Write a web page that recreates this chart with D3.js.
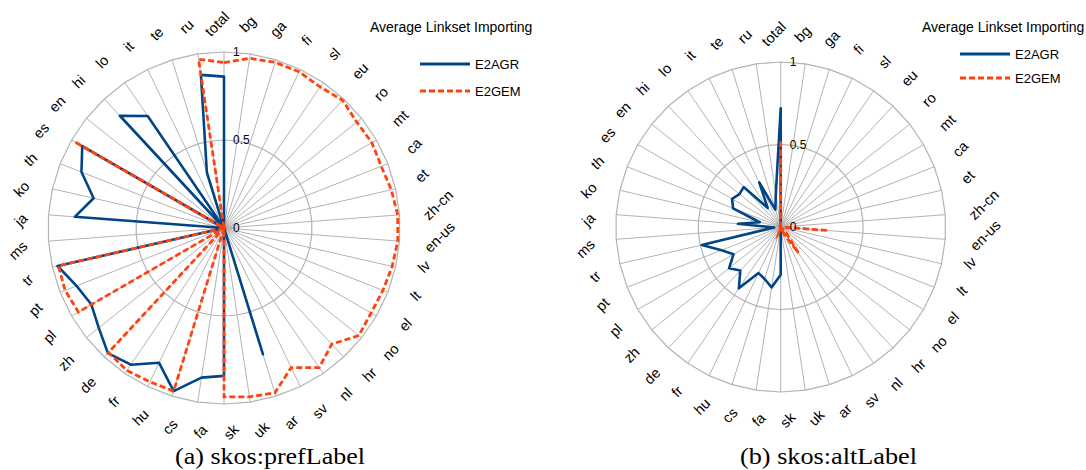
<!DOCTYPE html>
<html><head><meta charset="utf-8">
<script src="https://cdn.jsdelivr.net/npm/d3@7"></script>
<style>body{margin:0;background:#fff} svg{display:block}</style>
</head><body>
<svg id="c" width="1086" height="470"></svg>
<script>
const categories = ["total","bg","ga","fi","sl","eu","ro","mt","ca","et","zh-cn","en-us","lv","lt","el","no","hr","nl","sv","ar","uk","sk","fa","cs","hu","fr","de","zh","pl","pt","tr","ms","ja","ko","th","es","en","hi","lo","it","te","ru"];
const ticks = [0, 0.5, 1];
const tickLabels = ["0", "0.5", "1"];
const seriesNames = ["E2AGR", "E2GEM"];
const chartTitle = "Average Linkset Importing";
const captions = ["(a) skos:prefLabel", "(b) skos:altLabel"];

// (a) skos:prefLabel
const prefE2AGR = [0.86,0,0,0,0,0,0,0,0,0,0,0,0,0,0,0,0,0,0,0.75,0,0.84,0.86,0.97,0.85,0.94,0.97,0.91,0.87,0.90,0.97,0,0.85,0.76,0.87,0.93,0,0.87,0.77,0,0.33,0.88];
const prefE2GEM = [0.94,0.975,0.985,0.985,0.97,0.99,0.965,0.97,0.96,0.975,0.99,0.99,0.98,0.97,0.965,0.98,0.90,0.96,0.88,0.98,0.97,0.96,0,0.97,0.97,0.98,0.965,0,0.955,0.97,0.965,0,0,0,0,0.98,0,0,0,0,0,0.97];
// (b) skos:altLabel
const altE2AGR = [0.72,0,0,0,0,0,0,0,0,0,0,0,0,0,0,0,0,0,0,0,0,0.29,0.37,0.33,0.31,0.45,0.36,0.40,0.33,0.385,0.49,0.04,0.26,0.13,0.31,0.34,0.32,0.33,0.14,0.30,0.11,0.20];
const altE2GEM = [0.52,0,0,0,0,0,0,0,0,0,0,0.29,0,0,0,0,0.05,0.19,0.05,0,0,0,0.04,0.05,0,0,0,0,0,0,0,0,0,0,0,0,0,0,0,0,0,0];

const BLUE = "#004586", ORANGE = "#ff420e", GRID = "#b3b3b3";
const SANS = "'Liberation Sans', Arial, sans-serif";
const svg = d3.select("#c");

function radar(cfg, agr, gem) {
  const { cx, cy, R } = cfg;
  const g = svg.append("g").attr("transform", `translate(${cx},${cy})`);
  const n = categories.length;
  const angle = d3.scaleLinear().domain([0, n]).range([0, 2 * Math.PI]);
  const r = d3.scaleLinear().domain([0, 1]).range([0, R]);

  // spokes
  g.selectAll("line.spoke").data(categories).join("line").attr("class", "spoke")
    .attr("x1", 0).attr("y1", 0)
    .attr("x2", (d, i) => Math.sin(angle(i)) * r(1))
    .attr("y2", (d, i) => -Math.cos(angle(i)) * r(1))
    .attr("stroke", GRID).attr("stroke-width", 1);

  const radial = d3.lineRadial().angle((d, i) => angle(i)).radius(d => r(d)).curve(d3.curveLinearClosed);

  // rings
  g.selectAll("path.ring").data(ticks.filter(t => t > 0)).join("path").attr("class", "ring")
    .attr("d", t => radial(categories.map(() => t)))
    .attr("fill", "none").attr("stroke", GRID).attr("stroke-width", 1.2);

  // series
  g.append("path").attr("d", radial(agr)).attr("fill", "none")
    .attr("stroke", BLUE).attr("stroke-width", 2.6).attr("stroke-linejoin", "round");
  g.append("path").attr("d", radial(gem)).attr("fill", "none")
    .attr("stroke", ORANGE).attr("stroke-width", 2.8).attr("stroke-dasharray", "6,3");

  // tick labels
  g.selectAll("text.tick").data(ticks).join("text").attr("class", "tick")
    .attr("x", 9).attr("y", t => -r(t))
    .attr("dominant-baseline", "central")
    .attr("font-family", SANS).attr("font-size", 12).attr("fill", "#000")
    .text((t, i) => tickLabels[i]);

  // category labels
  const h = 14, shift = 7;
  categories.forEach((c, i) => {
    const th = angle(i);
    const t = g.append("text").attr("font-family", SANS).attr("font-size", 14.5)
      .attr("text-anchor", "middle").attr("dominant-baseline", "central").text(c);
    const w = t.node().getComputedTextLength();
    const rc = R + 21 + Math.abs(Math.sin(th)) * w / 2 + Math.abs(Math.cos(th)) * h / 2;
    const x = Math.sin(th) * rc - shift * Math.cos(th);
    const y = -Math.cos(th) * rc - shift * Math.sin(th);
    t.attr("transform", `translate(${x},${y}) rotate(-45)`);
  });

  // title and legend
  svg.append("text").attr("x", cfg.titleX).attr("y", 32)
    .attr("font-family", SANS).attr("font-size", 14).text(chartTitle);
  const lg = svg.append("g");
  [BLUE, ORANGE].forEach((col, k) => {
    const ly = cfg.legY[k];
    lg.append("line").attr("x1", cfg.legX).attr("x2", cfg.legX + 50).attr("y1", ly).attr("y2", ly)
      .attr("stroke", col).attr("stroke-width", 2.8)
      .attr("stroke-dasharray", k === 1 ? "6,3" : null);
    lg.append("text").attr("x", cfg.legX + 55).attr("y", ly + 5)
      .attr("font-family", SANS).attr("font-size", 13).text(seriesNames[k]);
  });

  // caption
  svg.append("text").attr("x", cfg.capX).attr("y", 464)
    .attr("font-family", "'Liberation Serif', 'DejaVu Serif', serif").attr("font-size", 23)
    .attr("textLength", cfg.capW).attr("lengthAdjust", "spacingAndGlyphs")
    .text(cfg.caption);
}

radar({ cx: 224, cy: 228, R: 176, titleX: 370, legX: 420, legY: [64, 91], capX: 175, capW: 190, caption: captions[0] }, prefE2AGR, prefE2GEM);
radar({ cx: 780.7, cy: 227, R: 165, titleX: 922, legX: 960, legY: [54, 78], capX: 740, capW: 177, caption: captions[1] }, altE2AGR, altE2GEM);
</script>
</body></html>
